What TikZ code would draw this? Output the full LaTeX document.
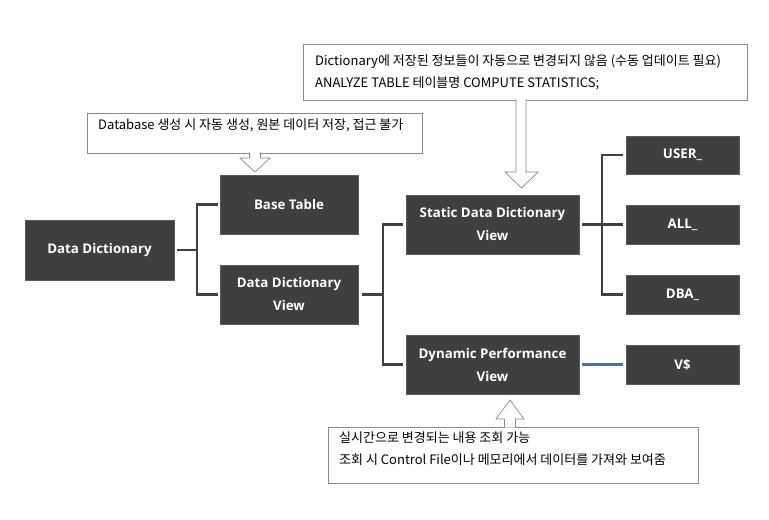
\documentclass[tikz,border=0pt]{standalone}
\usepackage{fontspec}
\setmainfont{Noto Sans CJK KR}
\setsansfont{Open Sans}
\begin{document}
\begin{tikzpicture}[x=1bp,y=-1bp,
  dbox/.style={fill=boxgray,draw=boxedge,line width=0.6bp,text=white,font=\sffamily\bfseries\fontsize{13.3bp}{23bp}\selectfont,align=center,inner sep=0pt},
  conn/.style={draw=conngray,line width=2.6bp},
  callout/.style={draw=callgray,fill=white,line width=0.7bp},
  ctext/.style={font=\fontsize{13bp}{15bp}\selectfont,anchor=base west,inner sep=0pt,text=black}]
\definecolor{boxgray}{HTML}{3F3F3F}
\definecolor{boxedge}{HTML}{5A5A5A}
\definecolor{conngray}{HTML}{404040}
\definecolor{callgray}{HTML}{8A8A8A}
\definecolor{vblue}{HTML}{4F6F9F}
\useasboundingbox[fill=white] (0,0) rectangle (769,520);

% dark boxes
\node[dbox,minimum width=149bp,minimum height=60bp] (dd) at (99.5,250) {Data Dictionary};
\node[dbox,minimum width=138bp,minimum height=59bp] (bt) at (289,204.5) {Base Table};
\node[dbox,minimum width=138bp,minimum height=59bp] (ddv) at (289,294.5) {Data Dictionary\\View};
\node[dbox,minimum width=173bp,minimum height=59bp] (sdv) at (492.5,224.5) {Static Data Dictionary\\View};
\node[dbox,minimum width=173bp,minimum height=59bp] (dpv) at (492.5,364.5) {Dynamic Performance\\View};
\node[dbox,minimum width=113bp,minimum height=38bp] (user) at (682.5,155) {USER\_};
\node[dbox,minimum width=113bp,minimum height=39bp] (all) at (682.5,224.5) {ALL\_};
\node[dbox,minimum width=113bp,minimum height=39bp] (dba) at (682.5,294.5) {DBA\_};
\node[dbox,minimum width=113bp,minimum height=39bp] (vd) at (682.5,364.5) {V\$};

% connectors
\coordinate (j1) at (197,250);
\coordinate (j2) at (383,294.5);
\coordinate (j3) at (602,224.5);
\draw[conn] ([xshift=3bp]dd.east) -- (j1);
\draw[conn] ([xshift=-2bp]bt.west) -| (j1) |- ([xshift=-2bp]ddv.west);
\draw[conn] ([xshift=4bp]ddv.east) -- (j2);
\draw[conn] ([xshift=-3bp]sdv.west) -| (j2) |- ([xshift=-3bp]dpv.west);
\draw[conn] ([xshift=3bp]sdv.east) -- (j3);
\draw[conn] ([xshift=-3bp]user.west) -| (j3) |- ([xshift=-3bp]dba.west);
\draw[conn] (j3) -- ([xshift=-3bp]all.west);
\draw[draw=vblue,line width=2.6bp] ([xshift=3bp]dpv.east) -- ([xshift=-3bp]vd.west);

% callout boxes
\node[callout,minimum width=444bp,minimum height=56bp] (c1) at (525,72) {};
\node[ctext] (c1a) at (315,66) {Dictionary에 저장된 정보들이 자동으로 변경되지 않음 (수동 업데이트 필요)};
\node[ctext] (c1b) at (315,88) {ANALYZE TABLE 테이블명 COMPUTE STATISTICS;};
\node[callout,minimum width=335bp,minimum height=40bp] (c2) at (254.5,133) {};
\node[ctext] (c2t) at (98,130) {Database 생성 시 자동 생성, 원본 데이터 저장, 접근 불가};
\node[callout,minimum width=370bp,minimum height=56bp] (c3) at (513,455) {};
\node[ctext] (c3a) at (339,442) {실시간으로 변경되는 내용 조회 가능};
\node[ctext] (c3b) at (339,464) {조회 시 Control File이나 메모리에서 데이터를 가져와 보여줌};

% block arrows
\draw[callout] (516,99.3) -- (516,172) -- (505,172) -- (521.5,188) -- (538,172) -- (526,172) -- (526,99.3);
\draw[callout] (249.5,152.3) -- (249.5,158) -- (240,158) -- (255,172) -- (270,158) -- (260.5,158) -- (260.5,152.3);
\draw[callout] (504.5,427.7) -- (504.5,419) -- (496,419) -- (510,400) -- (524,419) -- (515.5,419) -- (515.5,427.7);
\end{tikzpicture}
\end{document}
